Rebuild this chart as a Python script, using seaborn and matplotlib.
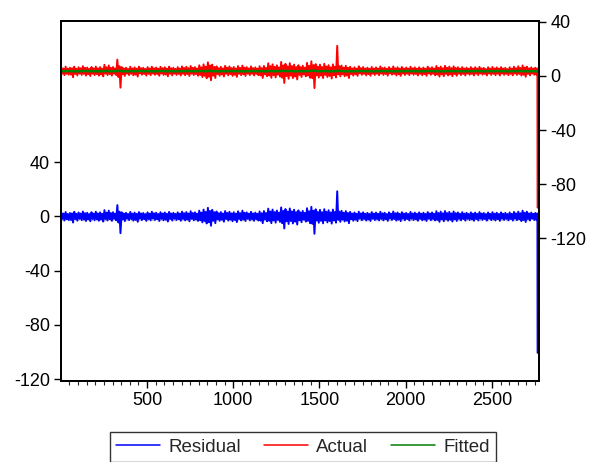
import numpy as np
import pandas as pd
import matplotlib
matplotlib.use("Agg")
import matplotlib.pyplot as plt
import seaborn as sns
from matplotlib.lines import Line2D
from matplotlib.ticker import MultipleLocator

# Residual, per block of 25 obs:
# outer swings (hi / lo) and the dense core of the band (core_hi / core_lo)
resid_hi = [2.8, 3.2, 2.5, 3.4, 2.9, 3.6, 2.7, 3.1, 3.5, 3.0,
            4.6, 4.2, 3.1, 8.3, 3.0, 2.6, 3.3, 2.8, 3.2, 2.5,
            3.0, 3.4, 2.7, 3.1, 2.9, 3.3, 2.6, 3.0, 3.5, 3.2,
            3.8, 3.0, 4.2, 5.0, 6.3, 4.8, 3.6, 3.2, 3.9, 3.4,
            3.1, 3.7, 4.2, 3.0, 3.4, 2.8, 3.6, 3.9, 5.7, 5.0,
            4.3, 6.6, 5.4, 5.8, 4.9, 4.4, 4.0, 6.0, 7.0, 5.2,
            4.8, 5.3, 4.5, 5.0, 18.5, 4.1, 3.9, 3.3, 2.9, 3.5,
            3.0, 2.6, 3.2, 2.8, 3.4, 2.7, 3.0, 3.6, 2.9, 3.1,
            2.6, 3.3, 2.8, 3.0, 2.7, 3.2, 2.9, 3.8, 3.5, 3.9,
            3.3, 3.6, 2.9, 3.1, 2.6, 3.0, 2.8, 3.2, 2.5, 2.9,
            3.1, 2.7, 3.0, 2.6, 2.9, 3.3, 3.5, 4.2, 3.4, 2.8]
resid_lo = [-3.0, -2.7, -4.5, -3.1, -2.8, -3.4, -3.6, -2.9, -3.2, -3.8,
            -3.0, -3.3, -2.9, -12.4, -3.5, -2.8, -3.1, -4.0, -2.7, -3.3,
            -3.0, -2.6, -3.4, -2.9, -3.8, -3.1, -2.7, -3.2, -3.0, -3.6,
            -2.9, -3.4, -4.4, -5.2, -6.9, -5.0, -3.3, -3.9, -3.1, -3.6,
            -4.2, -3.0, -3.4, -2.9, -3.3, -3.0, -5.0, -3.6, -5.0, -4.6,
            -4.0, -8.9, -5.6, -5.2, -6.0, -4.3, -3.8, -5.0, -12.8, -4.7,
            -5.1, -4.4, -5.3, -4.6, -4.0, -3.7, -5.0, -3.2, -3.5, -2.8,
            -3.1, -3.4, -2.7, -3.0, -2.9, -3.3, -2.6, -3.1, -3.5, -2.8,
            -3.0, -2.7, -3.2, -2.9, -3.4, -2.8, -3.0, -4.0, -3.6, -3.2,
            -3.8, -3.4, -2.9, -3.1, -2.7, -3.2, -3.0, -2.6, -3.1, -2.8,
            -3.0, -3.3, -2.7, -2.9, -3.1, -2.8, -3.4, -4.1, -3.0, -2.7]
core_hi = [2.0, 1.8, 2.2, 1.9, 2.1, 2.4, 1.7, 2.0, 2.2, 1.9,
           2.8, 2.5, 2.0, 3.5, 2.1, 1.8, 2.0, 1.9, 2.2, 1.7,
           2.0, 2.3, 1.8, 2.1, 1.9, 2.2, 1.8, 2.0, 2.4, 2.1,
           2.5, 2.0, 2.8, 3.3, 4.0, 3.1, 2.3, 2.1, 2.6, 2.2,
           2.0, 2.4, 2.7, 2.0, 2.2, 1.9, 2.3, 2.5, 3.6, 3.2,
           2.8, 4.0, 3.5, 3.7, 3.1, 2.9, 2.6, 3.8, 4.2, 3.3,
           3.1, 3.4, 2.9, 3.2, 3.5, 2.7, 2.5, 2.1, 1.9, 2.2,
           2.0, 1.8, 2.1, 1.9, 2.2, 1.8, 2.0, 2.3, 1.9, 2.0,
           1.8, 2.1, 1.9, 2.0, 1.8, 2.1, 1.9, 2.5, 2.3, 2.5,
           2.2, 2.4, 1.9, 2.0, 1.8, 2.0, 1.9, 2.1, 1.7, 1.9,
           2.0, 1.8, 2.0, 1.7, 1.9, 2.2, 2.3, 2.7, 2.2, 1.9]
core_lo = [-1.9, -2.1, -2.6, -2.0, -1.8, -2.2, -2.3, -1.9, -2.1, -2.4,
           -2.0, -2.2, -1.9, -4.5, -2.3, -1.8, -2.0, -2.6, -1.8, -2.1,
           -2.0, -1.7, -2.2, -1.9, -2.5, -2.0, -1.8, -2.1, -2.0, -2.3,
           -1.9, -2.2, -2.9, -3.4, -4.3, -3.3, -2.1, -2.5, -2.0, -2.3,
           -2.7, -2.0, -2.2, -1.9, -2.1, -2.0, -3.2, -2.3, -3.3, -3.0,
           -2.6, -5.0, -3.6, -3.4, -3.9, -2.8, -2.5, -3.3, -5.5, -3.1,
           -3.3, -2.9, -3.4, -3.0, -2.6, -2.4, -3.2, -2.1, -2.3, -1.8,
           -2.0, -2.2, -1.8, -2.0, -1.9, -2.1, -1.7, -2.0, -2.3, -1.8,
           -2.0, -1.8, -2.1, -1.9, -2.2, -1.8, -2.0, -2.6, -2.3, -2.1,
           -2.5, -2.2, -1.9, -2.0, -1.8, -2.1, -2.0, -1.7, -2.0, -1.8,
           -2.0, -2.1, -1.8, -1.9, -2.0, -1.8, -2.2, -2.7, -2.0, -1.8]
fitted_block = [3.5, 3.6, 3.5, 3.4, 3.5, 3.6, 3.5, 3.5, 3.4, 3.5,
                3.6, 3.5, 3.5, 3.7, 3.5, 3.4, 3.5, 3.5, 3.6, 3.5,
                3.5, 3.4, 3.5, 3.6, 3.5, 3.5, 3.4, 3.5, 3.5, 3.6,
                3.5, 3.5, 3.6, 3.5, 3.7, 3.5, 3.4, 3.5, 3.5, 3.6,
                3.5, 3.5, 3.4, 3.5, 3.6, 3.5, 3.5, 3.4, 3.6, 3.5,
                3.5, 3.7, 3.5, 3.6, 3.4, 3.5, 3.5, 3.6, 3.8, 3.5,
                3.5, 3.6, 3.4, 3.5, 3.7, 3.5, 3.5, 3.4, 3.5, 3.6,
                3.5, 3.5, 3.4, 3.5, 3.6, 3.5, 3.5, 3.4, 3.5, 3.5,
                3.6, 3.5, 3.5, 3.4, 3.5, 3.6, 3.5, 3.5, 3.4, 3.5,
                3.6, 3.5, 3.5, 3.4, 3.5, 3.5, 3.6, 3.5, 3.4, 3.5,
                3.5, 3.6, 3.5, 3.4, 3.5, 3.5, 3.6, 3.5, 3.4, 3.5]
tail_obs = [2752, 2755, 2758, 2761, 2763, 2764, 2765]
tail_resid = [2.5, -2.0, 1.8, -2.7, 2.1, -1.5, -100.6]
tail_fitted = [3.5, 3.5, 3.4, 3.4, 3.4, 3.3, 3.3]
se_band = 2.4

block_start = np.arange(len(resid_hi)) * 25
obs = np.concatenate([
    np.column_stack([block_start + 3, block_start + 9,
                     block_start + 15, block_start + 21]).ravel(), tail_obs])
resid = np.concatenate([
    np.column_stack([resid_hi, core_lo, core_hi, resid_lo]).ravel(), tail_resid])
fitted = np.concatenate([np.repeat(fitted_block, 4), tail_fitted])
df = pd.DataFrame({"obs": obs, "Residual": resid, "Fitted": fitted})
df["Actual"] = df["Fitted"] + df["Residual"]

sns.set_style("white")
plt.rcParams["font.family"] = ["Liberation Sans", "DejaVu Sans"]
plt.rcParams["axes.unicode_minus"] = False

fig = plt.figure(figsize=(5.92, 4.62), dpi=100)
ax = fig.add_axes([0.103, 0.1764, 0.808, 0.778])
ax2 = ax.twinx()

# residual panel (left axis)
ax.axhline(0, color="#c0c0c0", lw=1, zorder=1)
ax.axhline(se_band, color="#c0c0c0", lw=1, ls=(0, (3, 2)), zorder=1)
ax.axhline(-se_band, color="#c0c0c0", lw=1, ls=(0, (3, 2)), zorder=1)
sns.lineplot(data=df, x="obs", y="Residual", ax=ax, color="blue", lw=1.4,
             estimator=None, legend=False, zorder=2)

# actual / fitted (right axis)
sns.lineplot(data=df, x="obs", y="Actual", ax=ax2, color="red", lw=1.4,
             estimator=None, legend=False)
sns.lineplot(data=df, x="obs", y="Fitted", ax=ax2, color="green", lw=1.8,
             estimator=None, legend=False)

ax.set_xlim(1, 2775)
ax.set_ylim(-121, 144)
ax2.set_ylim(-225, 40.5)
ax.set_yticks([-120, -80, -40, 0, 40])
ax2.set_yticks([-120, -80, -40, 0, 40])
ax.xaxis.set_major_locator(MultipleLocator(500))
ax.xaxis.set_minor_locator(MultipleLocator(50))
ax.set_xticks([500, 1000, 1500, 2000, 2500])
ax.set_xlabel("")
ax.set_ylabel("")
ax2.set_ylabel("")

for a in (ax, ax2):
    for s in a.spines.values():
        s.set_color("black")
        s.set_linewidth(1.3)
ax.tick_params(axis="both", which="major", direction="out", length=5, width=1,
               labelsize=13, colors="black", bottom=True, left=True, pad=3)
ax.tick_params(axis="x", which="minor", direction="out", length=3, width=0.8, bottom=True)
ax2.tick_params(axis="y", which="major", direction="out", length=5, width=1,
                labelsize=13, colors="black", right=True, pad=3)

handles = [Line2D([], [], color="blue", lw=1.1),
           Line2D([], [], color="red", lw=1.1),
           Line2D([], [], color="green", lw=1.1)]
leg = fig.legend(handles, ["Residual", "Actual", "Fitted"], loc="upper center",
                 bbox_to_anchor=(0.512, 0.0649), ncol=3, fontsize=13.5,
                 frameon=True, fancybox=False, handlelength=2.35,
                 handletextpad=0.45, columnspacing=1.2, borderpad=0.35,
                 borderaxespad=0)
leg.get_frame().set_edgecolor("black")
leg.get_frame().set_linewidth(1)

plt.savefig("out.png", dpi=100)
